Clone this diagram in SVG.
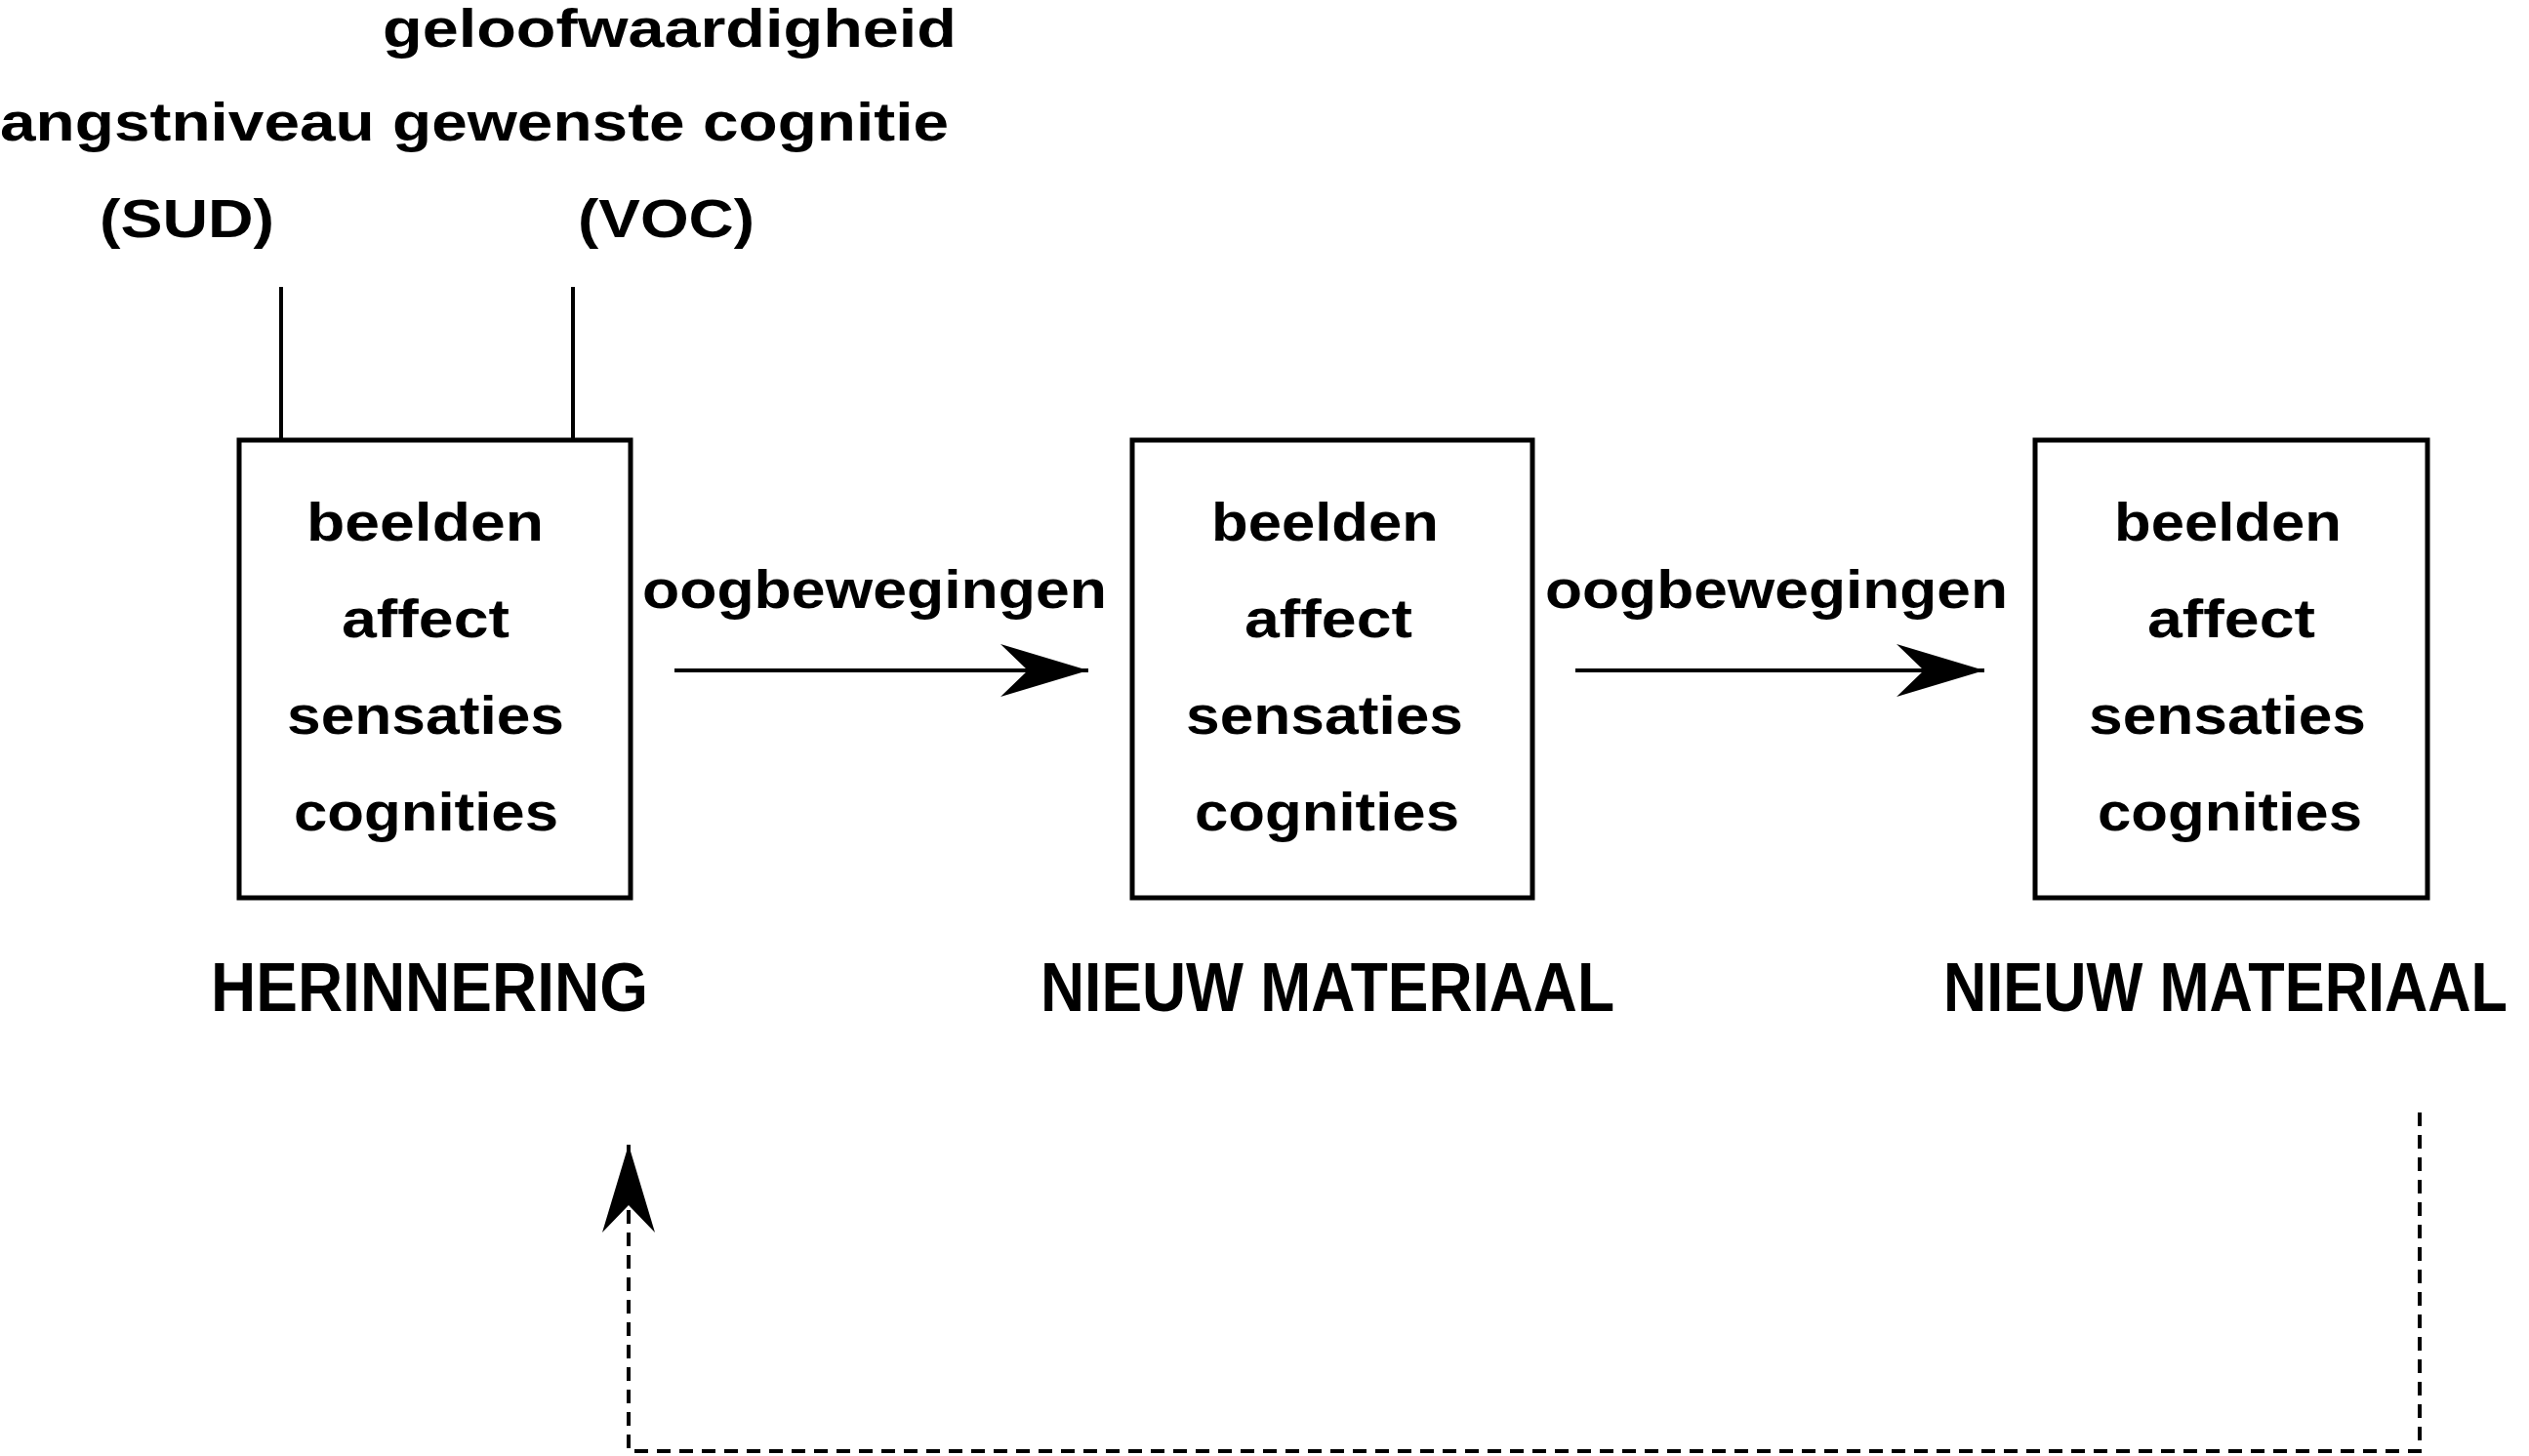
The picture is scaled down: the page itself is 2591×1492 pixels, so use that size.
<svg xmlns="http://www.w3.org/2000/svg" width="2591" height="1492" viewBox="0 0 2591 1492">
<style>
text{font-family:"Liberation Sans",Arial,sans-serif;font-weight:bold;fill:#000;text-anchor:start}
.b{font-size:56px}
.l{font-size:70px}
.box{fill:none;stroke:#000;stroke-width:5}
.ln{stroke:#000;stroke-width:4;fill:none}
.dash{stroke:#000;stroke-width:4;fill:none;stroke-dasharray:14 9}
</style>
<defs>
<marker id="ah" viewBox="0 0 90 54" refX="90" refY="27" markerWidth="90" markerHeight="54" markerUnits="userSpaceOnUse" orient="auto">
<path d="M0,0 L90,27 L0,54 L28,27 Z" fill="#000"/>
</marker>
</defs>
<rect width="2591" height="1492" fill="#fff"/>
<g id="top-labels">
<text class="b" x="392" y="48" textLength="588" lengthAdjust="spacingAndGlyphs">geloofwaardigheid</text>
<text class="b" x="0" y="144" textLength="972" lengthAdjust="spacingAndGlyphs">angstniveau gewenste cognitie</text>
<text class="b" x="102" y="243" textLength="179" lengthAdjust="spacingAndGlyphs">(SUD)</text>
<text class="b" x="592" y="243" textLength="181" lengthAdjust="spacingAndGlyphs">(VOC)</text>
</g>
<g id="herinnering">
<rect class="box" x="245" y="451" width="401" height="469"/>
<text class="b" x="314" y="554" textLength="243" lengthAdjust="spacingAndGlyphs">beelden</text>
<text class="b" x="350" y="653" textLength="172" lengthAdjust="spacingAndGlyphs">affect</text>
<text class="b" x="294" y="752" textLength="284" lengthAdjust="spacingAndGlyphs">sensaties</text>
<text class="b" x="301" y="851" textLength="271" lengthAdjust="spacingAndGlyphs">cognities</text>
<text class="l" x="216" y="1036" textLength="448" lengthAdjust="spacingAndGlyphs">HERINNERING</text>
</g>
<g id="nieuw1">
<rect class="box" x="1160" y="451" width="410" height="469"/>
<text class="b" x="1241" y="554" textLength="233" lengthAdjust="spacingAndGlyphs">beelden</text>
<text class="b" x="1275" y="653" textLength="172" lengthAdjust="spacingAndGlyphs">affect</text>
<text class="b" x="1215" y="752" textLength="284" lengthAdjust="spacingAndGlyphs">sensaties</text>
<text class="b" x="1224" y="851" textLength="271" lengthAdjust="spacingAndGlyphs">cognities</text>
<text class="l" x="1066" y="1036" textLength="588" lengthAdjust="spacingAndGlyphs">NIEUW MATERIAAL</text>
</g>
<g id="nieuw2">
<rect class="box" x="2085" y="451" width="402" height="469"/>
<text class="b" x="2166" y="554" textLength="233" lengthAdjust="spacingAndGlyphs">beelden</text>
<text class="b" x="2200" y="653" textLength="172" lengthAdjust="spacingAndGlyphs">affect</text>
<text class="b" x="2140" y="752" textLength="284" lengthAdjust="spacingAndGlyphs">sensaties</text>
<text class="b" x="2149" y="851" textLength="271" lengthAdjust="spacingAndGlyphs">cognities</text>
<text class="l" x="1991" y="1036" textLength="578" lengthAdjust="spacingAndGlyphs">NIEUW MATERIAAL</text>
</g>
<g id="connectors">
<line class="ln" x1="288" y1="294" x2="288" y2="451"/>
<line class="ln" x1="587" y1="294" x2="587" y2="451"/>
<text class="b" x="658" y="623" textLength="476" lengthAdjust="spacingAndGlyphs">oogbewegingen</text>
<line class="ln" x1="691" y1="687" x2="1115" y2="687" marker-end="url(#ah)"/>
<text class="b" x="1583" y="623" textLength="474" lengthAdjust="spacingAndGlyphs">oogbewegingen</text>
<line class="ln" x1="1614" y1="687" x2="2033" y2="687" marker-end="url(#ah)"/>
<polyline class="dash" points="2479,1140 2479,1487 644,1487 644,1173" marker-end="url(#ah)"/>
</g>
</svg>
